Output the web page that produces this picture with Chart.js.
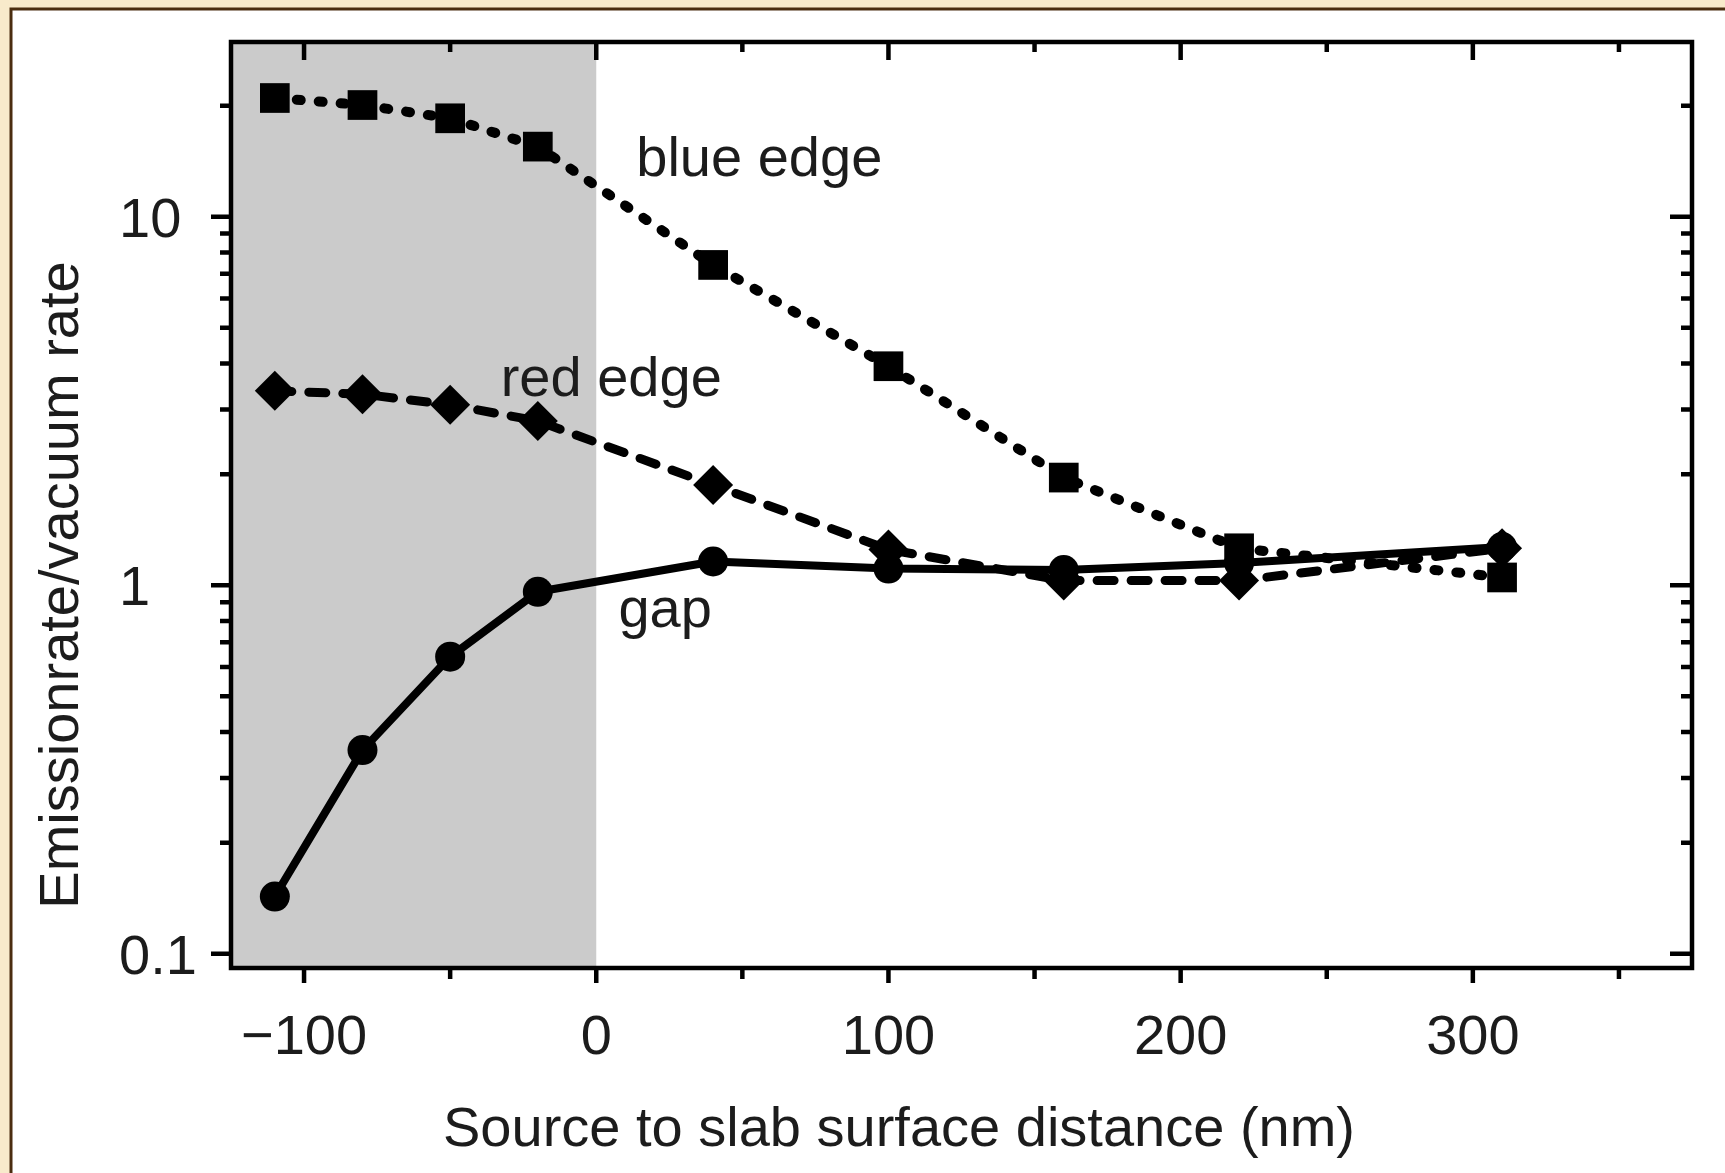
<!DOCTYPE html>
<html>
<head>
<meta charset="utf-8">
<title>Emission rate vs. source distance</title>
<script src="https://cdn.jsdelivr.net/npm/chart.js@4.4.1/dist/chart.umd.min.js"></script>
<style>
  html, body { margin: 0; padding: 0; background: #fff; }
  #wrap { position: relative; width: 1725px; height: 1173px; }
</style>
</head>
<body>
<div id="wrap"><canvas id="chart" width="1725" height="1173"></canvas></div>
<script>
  // source positions (nm) and rates relative to vacuum
  var distances = [-110, -80, -50, -20, 40, 100, 160, 220, 310];
  var blueEdge  = [21.0, 20.1, 18.5, 15.5, 7.4, 3.93, 1.96, 1.26, 1.05];
  var redEdge   = [3.37, 3.30, 3.09, 2.79, 1.87, 1.25, 1.03, 1.03, 1.26];
  var gapRate   = [0.143, 0.357, 0.64, 0.96, 1.16, 1.11, 1.10, 1.15, 1.27];

  // axes
  var xRange = [-125, 375];
  var yRange = [0.0915, 29.8];
  var xMajorTicks = [-100, 0, 100, 200, 300];
  var xMinorTicks = [-50, 50, 150, 250, 350];
  var xTickLabels = ['\u2212100', '0', '100', '200', '300'];
  var yMajorTicks = [0.1, 1, 10];
  var yMinorTicks = [0.2, 0.3, 0.4, 0.5, 0.6, 0.7, 0.8, 0.9, 2, 3, 4, 5, 6, 7, 8, 9, 20];
  var yTickLabels = ['0.1', '1', '10'];
  var xTitle = 'Source to slab surface distance (nm)';
  var yTitle = 'Emissionrate/vacuum rate';

  // slab region (shaded) and in-plot curve names, anchored in data units
  var slabRange = [-125, 0];
  var curveNames = ['blue edge', 'red edge', 'gap'];
  var curveNameX = [13.7, -32.7, 7.6];
  var curveNameY = [12.9, 3.26, 0.769];

  var FONT = "56px 'Liberation Sans', Arial, sans-serif";
  var INK = '#1c1c1c';

  function pts(ys) {
    return distances.map(function (d, i) { return { x: d, y: ys[i] }; });
  }

  var framePlugin = {
    id: 'frame',
    beforeDraw: function (chart) {
      var ctx = chart.ctx, w = chart.width, h = chart.height;
      var a = chart.chartArea, xs = chart.scales.x;
      ctx.save();
      // paper edge
      ctx.fillStyle = '#f8eacb';
      ctx.fillRect(0, 0, w, h);
      ctx.fillStyle = '#ffffff';
      ctx.fillRect(11, 9, w - 11, h - 9);
      ctx.strokeStyle = '#4a2d10';
      ctx.lineWidth = 3;
      ctx.beginPath();
      ctx.moveTo(11, h); ctx.lineTo(11, 9); ctx.lineTo(w, 9);
      ctx.stroke();
      // shaded slab
      var x0 = xs.getPixelForValue(slabRange[0]);
      var x1 = xs.getPixelForValue(slabRange[1]);
      ctx.fillStyle = '#cbcbcb';
      ctx.fillRect(x0, a.top, x1 - x0, a.bottom - a.top);
      ctx.restore();
    },
    afterDraw: function (chart) {
      var ctx = chart.ctx, a = chart.chartArea;
      var xs = chart.scales.x, ys = chart.scales.y;
      ctx.save();
      ctx.strokeStyle = '#000';
      ctx.lineWidth = 4.5;
      ctx.lineCap = 'butt';
      ctx.strokeRect(a.left, a.top, a.right - a.left, a.bottom - a.top);

      ctx.beginPath();
      // x ticks: inward on top, outward on bottom
      xMajorTicks.forEach(function (v) {
        var px = xs.getPixelForValue(v);
        ctx.moveTo(px, a.top); ctx.lineTo(px, a.top + 18);
        ctx.moveTo(px, a.bottom); ctx.lineTo(px, a.bottom + 15);
      });
      xMinorTicks.forEach(function (v) {
        var px = xs.getPixelForValue(v);
        ctx.moveTo(px, a.top); ctx.lineTo(px, a.top + 10);
        ctx.moveTo(px, a.bottom); ctx.lineTo(px, a.bottom + 11);
      });
      // y ticks: outward on left, inward on right
      yMajorTicks.forEach(function (v) {
        var py = ys.getPixelForValue(v);
        ctx.moveTo(a.left - 20, py); ctx.lineTo(a.left, py);
        ctx.moveTo(a.right - 22, py); ctx.lineTo(a.right, py);
      });
      yMinorTicks.forEach(function (v) {
        var py = ys.getPixelForValue(v);
        ctx.moveTo(a.left - 11, py); ctx.lineTo(a.left, py);
        ctx.moveTo(a.right - 11, py); ctx.lineTo(a.right, py);
      });
      ctx.stroke();

      ctx.fillStyle = INK;
      ctx.font = FONT;
      ctx.textBaseline = 'alphabetic';
      ctx.textAlign = 'center';
      xMajorTicks.forEach(function (v, i) {
        ctx.fillText(xTickLabels[i], xs.getPixelForValue(v), 1054);
      });
      ctx.textAlign = 'left';
      yMajorTicks.forEach(function (v, i) {
        ctx.fillText(yTickLabels[i], 119, ys.getPixelForValue(v) + 20);
      });

      // curve names
      curveNames.forEach(function (t, i) {
        ctx.fillText(t, xs.getPixelForValue(curveNameX[i]), ys.getPixelForValue(curveNameY[i]));
      });

      // axis titles
      ctx.textAlign = 'center';
      ctx.fillText(xTitle, 899, 1146);
      ctx.translate(78, 585);
      ctx.rotate(-Math.PI / 2);
      ctx.fillText(yTitle, 0, 0);
      ctx.restore();
    }
  };

  new Chart(document.getElementById('chart').getContext('2d'), {
    type: 'line',
    data: {
      datasets: [
        {
          label: 'gap',
          data: pts(gapRate),
          borderColor: '#000', backgroundColor: '#000',
          borderWidth: 8, borderCapStyle: 'round', borderJoinStyle: 'round', tension: 0,
          pointStyle: 'circle', pointRadius: 15, pointBorderWidth: 0
        },
        {
          label: 'red edge',
          data: pts(redEdge),
          borderColor: '#000', backgroundColor: '#000',
          borderWidth: 9, borderDash: [17, 17], borderCapStyle: 'round', tension: 0,
          pointStyle: 'rectRot', pointRadius: 20, pointBorderWidth: 0
        },
        {
          label: 'blue edge',
          data: pts(blueEdge),
          borderColor: '#000', backgroundColor: '#000',
          borderWidth: 10, borderDash: [4, 18], borderCapStyle: 'round', tension: 0,
          pointStyle: 'rect', pointRadius: 21, pointBorderWidth: 0
        }
      ]
    },
    options: {
      responsive: false,
      animation: false,
      layout: { padding: { left: 231, top: 42, right: 33, bottom: 205 } },
      plugins: { legend: { display: false }, tooltip: { enabled: false } },
      scales: {
        x: { type: 'linear', min: xRange[0], max: xRange[1], display: false },
        y: { type: 'logarithmic', min: yRange[0], max: yRange[1], display: false }
      }
    },
    plugins: [framePlugin]
  });
</script>
</body>
</html>
